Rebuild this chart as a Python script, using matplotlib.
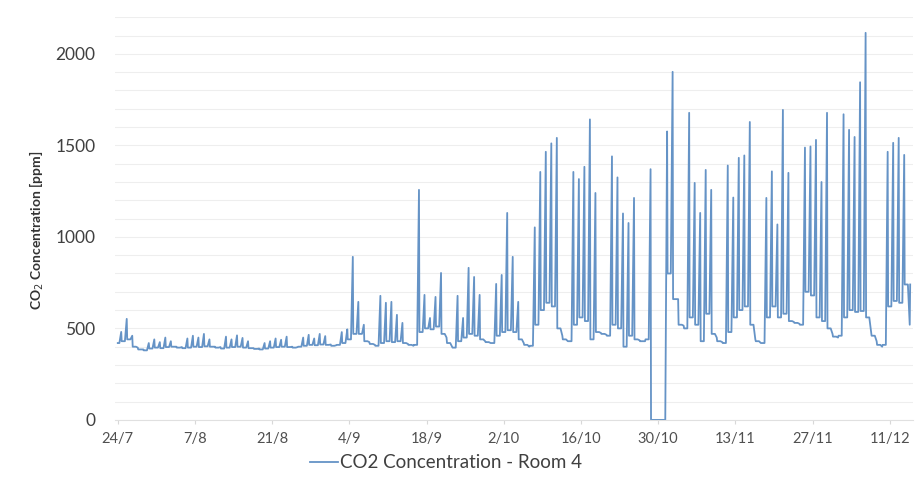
import matplotlib
matplotlib.use('Agg')
import matplotlib.pyplot as plt
import pandas as pd

# daily CO2 readings, Room 4, from 24/7 on (ppm)
# night = level at midnight, peak = highest value during the day
night = [420, 430, 440, 400, 385,
         380, 390, 395, 392, 398, 400, 395,
         392, 395, 400, 398, 402, 400, 395,
         390, 395, 398, 400, 395, 392, 388,
         385, 390, 395, 398, 400, 398, 395,
         400, 405, 410, 408, 412, 410, 405,
         410, 420, 440, 470, 470, 430, 415,
         405, 420, 430, 425, 430, 420, 410,
         410, 480, 500, 495, 510, 470, 420,
         395, 430, 450, 470, 460, 440, 425,
         420, 460, 480, 490, 480, 440, 410,
         405, 520, 600, 640, 620, 500, 440,
         430, 520, 560, 540, 440, 480, 470,
         460, 520, 500, 400, 460, 440, 430,
         440, 0, 0, 0, 800, 660, 520,
         500, 560, 520, 430, 580, 470, 430,
         420, 480, 560, 600, 620, 520, 430,
         420, 560, 620, 560, 580, 540, 530,
         520, 700, 680, 560, 540, 500, 455,
         460, 560, 600, 590, 595, 560, 460,
         410, 410, 620, 650, 640, 740]
peak = [481, 552, 460, 395, 385,
        420, 440, 425, 450, 430, 400, 398,
        445, 460, 450, 470, 440, 400, 398,
        455, 440, 462, 448, 430, 392, 390,
        420, 430, 445, 438, 455, 400, 398,
        450, 465, 445, 470, 458, 412, 408,
        480, 495, 891, 645, 520, 425, 410,
        678, 640, 645, 574, 530, 415, 405,
        1257, 683, 557, 672, 803, 450, 400,
        678, 557, 831, 781, 683, 430, 420,
        743, 792, 1131, 891, 645, 420, 400,
        1052, 1355, 1465, 1511, 1541, 460, 430,
        1355, 1316, 1383, 1642, 1240, 475, 465,
        1440, 1325, 1128, 1076, 1213, 435, 430,
        1370, 0, 0, 1576, 1902, 660, 515,
        1678, 1295, 1131, 1366, 1257, 450, 425,
        1390, 1215, 1432, 1445, 1628, 440, 420,
        1213, 1358, 1068, 1694, 1350, 535, 525,
        1488, 1494, 1530, 1300, 1678, 470, 450,
        1670, 1585, 1546, 1845, 2115, 480, 430,
        400, 1465, 1514, 1541, 1448, 520]

start = pd.Timestamp('2019-07-24')
days = pd.date_range(start, periods=len(night), freq='D')
tick_dates = pd.date_range(start, periods=11, freq='14D')
tick_labels = [f'{d.day}/{d.month}' for d in tick_dates]

h = lambda x: pd.Timedelta(hours=x)
t, v = [], []
for i, d in enumerate(days):
    nxt = night[i + 1] if i + 1 < len(night) else night[i]
    t += [d, d + h(7), d + h(15), d + h(17)]
    v += [night[i], night[i], peak[i], nxt]

plt.rcParams['font.family'] = ['Lato', 'DejaVu Sans']

fig = plt.figure(figsize=(9.15, 4.94), dpi=100)
ax = fig.add_axes([0.1257, 0.150, 0.872, 0.815])

ax.plot(t, v, color='#6593c6', lw=1.3, label='CO2 Concentration - Room 4')

ax.set_ylim(0, 2200)
ax.set_xlim(start - h(12), start + pd.Timedelta(days=144.2))
ax.set_yticks(range(0, 2001, 500))
ax.set_yticks(range(0, 2201, 100), minor=True)
ax.grid(axis='y', which='both', color='#eeeeee', lw=0.8)
ax.set_axisbelow(True)

ax.set_xticks(tick_dates)
ax.set_xticklabels(tick_labels)

for s in ['top', 'right', 'left']:
    ax.spines[s].set_visible(False)
ax.spines['bottom'].set_color('#e0e0e0')
ax.tick_params(axis='y', which='both', length=0, labelsize=12.5, labelcolor='#404040', pad=14)
ax.tick_params(axis='x', length=3, color='#d8d8d8', labelsize=10.5, labelcolor='#505050', pad=6)

ax.set_ylabel('CO$_2$ Concentration [ppm]', fontsize=10, fontweight='bold', color='#333333')
ax.yaxis.set_label_coords(-0.086, 0.47)

fig.legend(loc='center', bbox_to_anchor=(0.487, 0.063), frameon=False,
           fontsize=13.5, handlelength=1.5, handletextpad=0.1, labelcolor='#404040')

fig.savefig('out.png', dpi=100)
